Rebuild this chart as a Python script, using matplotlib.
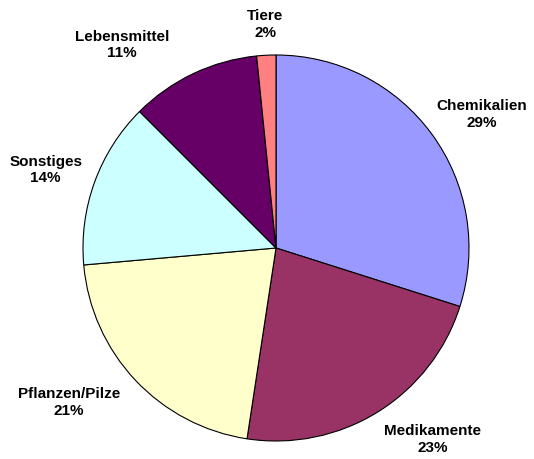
import numpy as np
import matplotlib
matplotlib.use('Agg')
import matplotlib.pyplot as plt

# categories and shares (clockwise from the top)
categories = ['Chemikalien', 'Medikamente', 'Pflanzen/Pilze', 'Sonstiges', 'Lebensmittel', 'Tiere']
shares = [29.9, 22.5, 21.2, 13.9, 10.9, 1.6]
pct_labels = ['29%', '23%', '21%', '14%', '11%', '2%']
colors = ['#9999FF', '#993366', '#FFFFCC', '#CCFFFF', '#660066', '#FF8080']

# label placement (angle in degrees, radius relative to pie)
label_ang = [32.9, -50.7, -143.3, 161.3, 127.2, 92.8]
label_rad = [1.27, 1.28, 1.34, 1.26, 1.32, 1.16]

plt.rcParams['font.family'] = ['Liberation Sans', 'DejaVu Sans']

fig = plt.figure(figsize=(5.34, 4.59), dpi=100)
ax = fig.add_axes([0, 0, 1, 1])

wedges, _ = ax.pie(shares, colors=colors, startangle=90, counterclock=False,
                   wedgeprops=dict(edgecolor='black', linewidth=0.8))

for cat, pct, a, d in zip(categories, pct_labels, label_ang, label_rad):
    a = np.deg2rad(a)
    ax.text(d * np.cos(a), d * np.sin(a), f'{cat}\n{pct}',
            ha='center', va='center', fontsize=11, fontweight='bold',
            linespacing=1.25)

# pie centre at (276, 248) px, radius 193 px
r = 193
ax.set_xlim(-276 / r, (534 - 276) / r)
ax.set_ylim(-(459 - 248) / r, 248 / r)
ax.set_aspect('auto')
ax.axis('off')

fig.savefig('out.png', dpi=100)
